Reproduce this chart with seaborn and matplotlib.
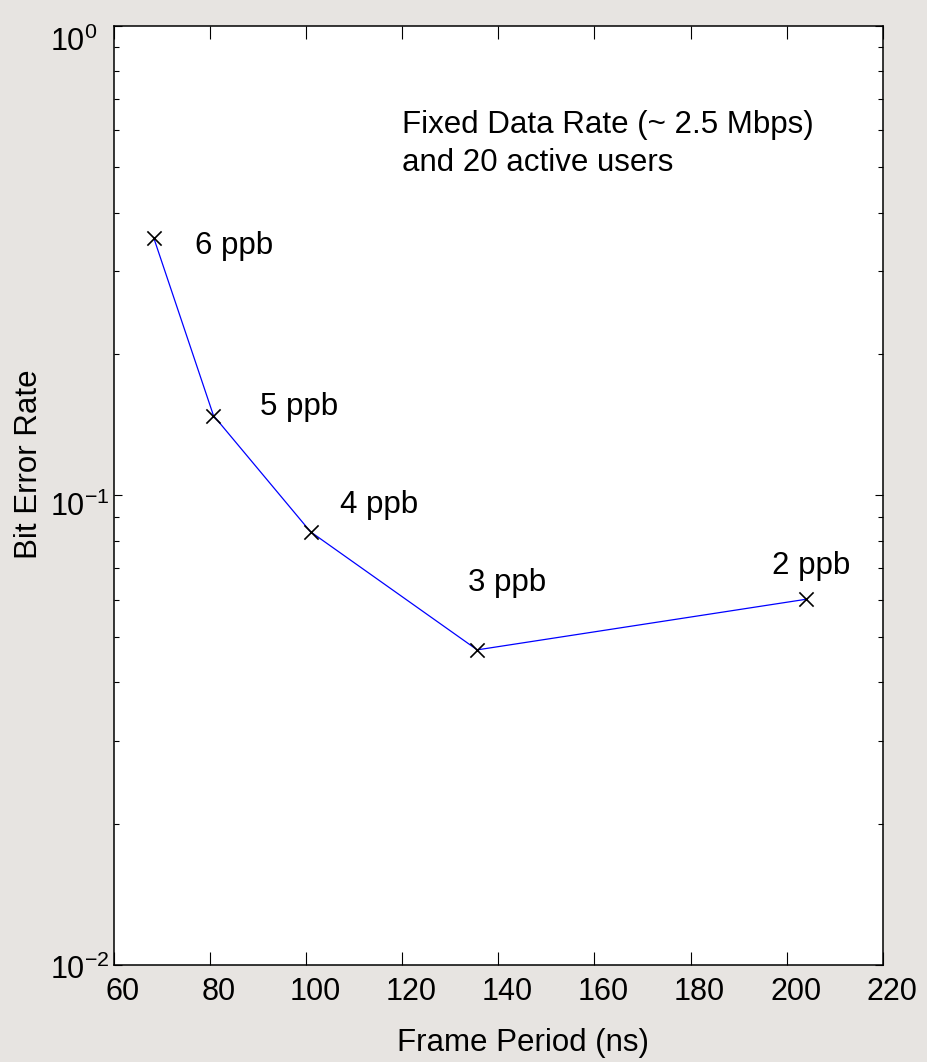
import numpy as np
import pandas as pd
import matplotlib
matplotlib.use("Agg")
import matplotlib.pyplot as plt
import matplotlib.transforms as mtransforms
from matplotlib.ticker import LogLocator, NullFormatter, FixedLocator
import seaborn as sns

# Bit error rate versus frame period for a fixed data rate
frame_period_ns = [68.3, 80.7, 100.9, 135.6, 204.0]
bit_error_rate = [0.353, 0.148, 0.0837, 0.0469, 0.0601]
pulses_per_bit = ["6 ppb", "5 ppb", "4 ppb", "3 ppb", "2 ppb"]

x_ticks = [60, 80, 100, 120, 140, 160, 180, 200, 220]
y_ticks = [1e-2, 1e-1, 1e0]
y_tick_labels = [r"$10^{-2}$", r"$10^{-1}$", r"$10^{0}$"]

note_lines = ["Fixed Data Rate (~ 2.5 Mbps)", "and 20 active users"]

df = pd.DataFrame({"period": frame_period_ns, "ber": bit_error_rate, "ppb": pulses_per_bit})

sns.set_style("ticks")
plt.rcParams["font.family"] = ["Liberation Sans", "DejaVu Sans"]
plt.rcParams["mathtext.fontset"] = "custom"
plt.rcParams["mathtext.rm"] = "Liberation Sans"
plt.rcParams["mathtext.default"] = "regular"
for key in ["text.color", "axes.labelcolor", "xtick.color", "ytick.color"]:
    plt.rcParams[key] = "black"

FS = 22.5
bg = "#e7e4e1"
fig = plt.figure(figsize=(9.27, 10.62), dpi=100, facecolor=bg)
ax = fig.add_axes([0.1230, 0.09134, 0.8292, 0.8842])
ax.set_facecolor("white")

sns.lineplot(data=df, x="period", y="ber", ax=ax, color="#0000ff",
             linewidth=0.9, sort=False, estimator=None)
sns.scatterplot(data=df, x="period", y="ber", ax=ax, marker="x", color="black",
                s=105, linewidth=1.2, zorder=3)

ax.set_yscale("log")
ax.set_xlim(60, 220)
ax.set_ylim(1e-2, 1e0)

# Point labels, offset (in points) from each marker
label_offsets = [(29.5, -11.5), (33.6, 0.7), (21.1, 13.5), (-6.5, 42.5), (-24.5, 18.2)]
for x, y, txt, (dx, dy) in zip(frame_period_ns, bit_error_rate, pulses_per_bit, label_offsets):
    ax.annotate(txt, (x, y), xytext=(dx, dy), textcoords="offset points",
                ha="left", va="baseline", fontsize=FS, color="black")

ax.text(0.3743, 0.8864, note_lines[0], transform=ax.transAxes, ha="left",
        va="baseline", fontsize=FS)
ax.text(0.3743, 0.8456, note_lines[1], transform=ax.transAxes, ha="left",
        va="baseline", fontsize=FS)

ax.xaxis.set_major_locator(FixedLocator(x_ticks))
ax.set_xticklabels([str(t) for t in x_ticks])
ax.set_yticks(y_ticks, labels=y_tick_labels)
ax.yaxis.set_minor_locator(LogLocator(base=10, subs=np.arange(2, 10)))
ax.yaxis.set_minor_formatter(NullFormatter())

ax.tick_params(axis="x", which="major", direction="in", length=9.4, width=0.8,
               top=True, bottom=True, labelsize=FS - 0.5, pad=9)
ax.tick_params(axis="y", which="major", direction="in", length=5.8, width=0.8,
               left=True, right=True, labelsize=FS - 0.5, pad=46)
ax.tick_params(axis="y", which="minor", direction="in", length=3.6, width=0.8,
               left=True, right=True)

for lbl in ax.get_xticklabels():
    lbl.set_transform(lbl.get_transform() +
                      mtransforms.ScaledTranslation(0.09, 0, fig.dpi_scale_trans))

# decade labels sit left-aligned, a little below their ticks
y_label_drop = [-0.02, -0.08, -0.13]
for lbl, drop in zip(ax.get_yticklabels(), y_label_drop):
    lbl.set_horizontalalignment("left")
    lbl.set_transform(lbl.get_transform() +
                      mtransforms.ScaledTranslation(0, drop, fig.dpi_scale_trans))

for sp in ax.spines.values():
    sp.set_visible(True)
    sp.set_color("black")
    sp.set_linewidth(1.1)

ax.set_xlabel("Frame Period (ns)", fontsize=FS)
ax.set_ylabel("Bit Error Rate", fontsize=FS)
ax.xaxis.set_label_coords(0.5327, -0.0676)
ax.yaxis.set_label_coords(-0.091, 0.5335)

fig.savefig("out.png", dpi=100, facecolor=bg)
